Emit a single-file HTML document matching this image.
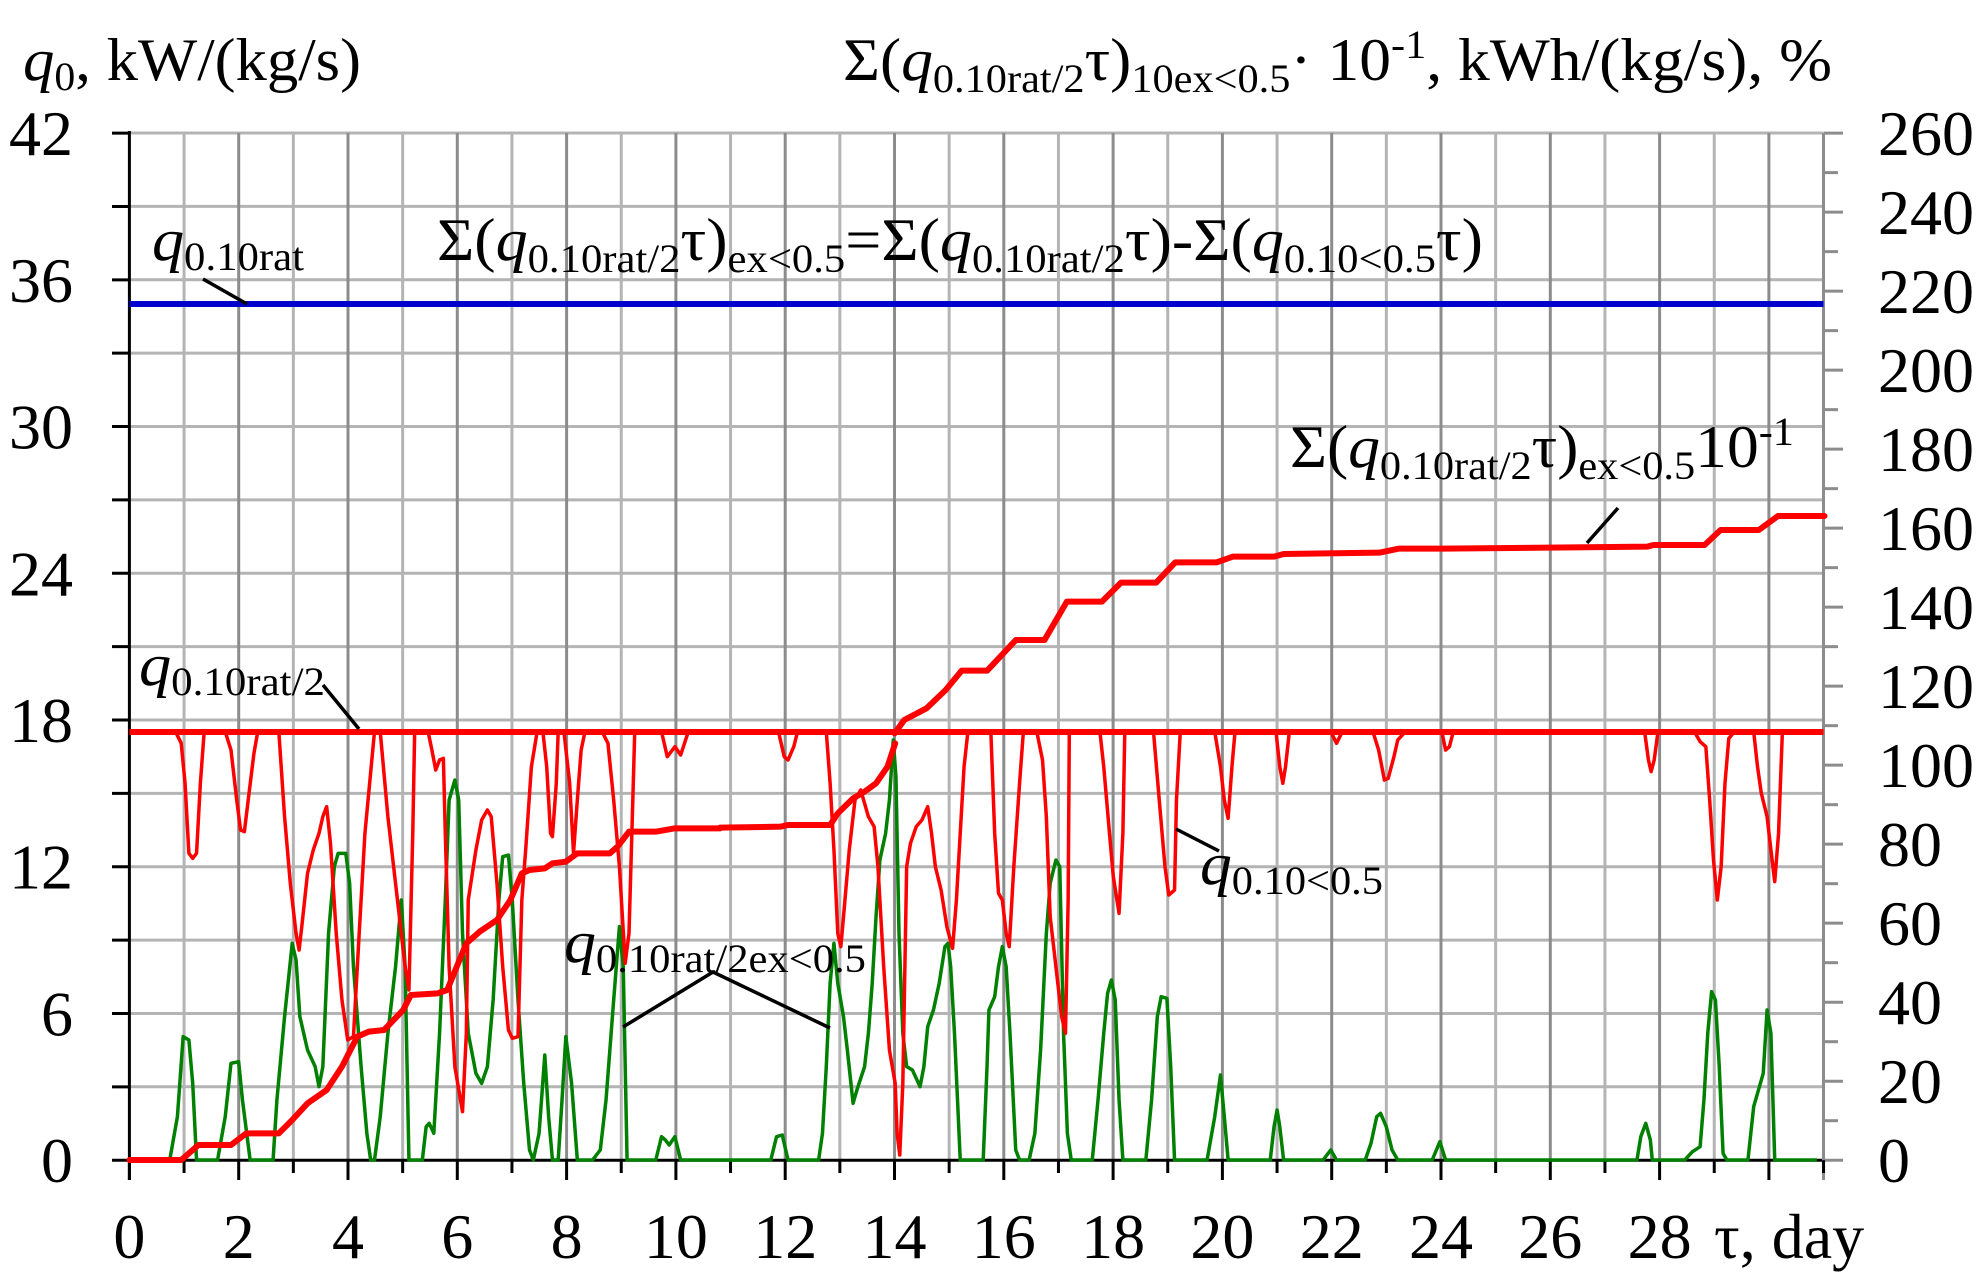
<!DOCTYPE html>
<html><head><meta charset="utf-8"><style>
html,body{margin:0;padding:0;background:#fff;}
svg{display:block;}
text{font-family:"Liberation Serif",serif;fill:#000;}
</style></head><body>
<svg width="1988" height="1284" viewBox="0 0 1988 1284" xmlns="http://www.w3.org/2000/svg">
<rect width="1988" height="1284" fill="#fff"/>
<g id="grid" stroke-width="3">
<g stroke="#b4b4b4">
<line x1="129.4" y1="133" x2="1823" y2="133"/>
<line x1="129.4" y1="206.4" x2="1823" y2="206.4"/>
<line x1="129.4" y1="279.8" x2="1823" y2="279.8"/>
<line x1="129.4" y1="353.1" x2="1823" y2="353.1"/>
<line x1="129.4" y1="426.5" x2="1823" y2="426.5"/>
<line x1="129.4" y1="499.9" x2="1823" y2="499.9"/>
<line x1="129.4" y1="573.2" x2="1823" y2="573.2"/>
<line x1="129.4" y1="646.6" x2="1823" y2="646.6"/>
<line x1="129.4" y1="720" x2="1823" y2="720"/>
<line x1="129.4" y1="793.4" x2="1823" y2="793.4"/>
<line x1="129.4" y1="866.7" x2="1823" y2="866.7"/>
<line x1="129.4" y1="940.1" x2="1823" y2="940.1"/>
<line x1="129.4" y1="1013.5" x2="1823" y2="1013.5"/>
<line x1="129.4" y1="1086.8" x2="1823" y2="1086.8"/>
</g>
<g id="vgrid"></g>
</g>
<script>
(function(){var g=document.getElementById('vgrid');var ns='http://www.w3.org/2000/svg';
for(var d=1;d<=30;d++){var x=129.4+d*54.65;var l=document.createElementNS(ns,'line');
l.setAttribute('x1',x);l.setAttribute('x2',x);l.setAttribute('y1',133);l.setAttribute('y2',1160);
l.setAttribute('stroke',d%2==0?'#8c8c8c':'#b4b4b4');g.appendChild(l);}
})();
</script>
<!-- axes -->
<line x1="129.4" y1="131" x2="129.4" y2="1180" stroke="#000" stroke-width="3"/>
<line x1="129.4" y1="1160.2" x2="1823.5" y2="1160.2" stroke="#000" stroke-width="3"/>
<line x1="1823.5" y1="133" x2="1823.5" y2="1180" stroke="#8c8c8c" stroke-width="3"/>
<g id="ticks" stroke-width="3"></g>
<g id="labels" font-size="64"></g>
<script>
(function(){var ns='http://www.w3.org/2000/svg';var g=document.getElementById('ticks');var lb=document.getElementById('labels');
function ln(x1,y1,x2,y2,c){var l=document.createElementNS(ns,'line');l.setAttribute('x1',x1);l.setAttribute('y1',y1);l.setAttribute('x2',x2);l.setAttribute('y2',y2);l.setAttribute('stroke',c);g.appendChild(l);}
function tx(x,y,s,a){var t=document.createElementNS(ns,'text');t.setAttribute('x',x);t.setAttribute('y',y);t.setAttribute('text-anchor',a);t.textContent=s;lb.appendChild(t);}
for(var v=0;v<=42;v+=3){var y=1160.2-v*24.455;ln(112,y,129.4,y,'#000');if(v%6==0)tx(73,y+22,String(v),'end');}
for(var r=0;r<=260;r+=10){var y=1160.2-r*3.9503;ln(1823.5,y,r%20==0?1843:1838,y,'#8c8c8c');if(r%20==0)tx(1878,y+22,String(r),'start');}
for(var d=0;d<=31;d++){var x=129.4+d*54.65;ln(x,1160.2,x,d%2==0?1180:1173,'#000');if(d%2==0&&d<=28)tx(x,1258,String(d),'middle');}
})();
</script>
<text x="1714" y="1258" font-size="64">τ, day</text>

<!-- reference lines -->
<line x1="129.4" y1="304" x2="1823.5" y2="304" stroke="#0000cc" stroke-width="6"/>

<!-- green q0.10rat/2ex<0.5 -->
<g fill="none" stroke="#008000" stroke-width="3.5" stroke-linejoin="round">
<polyline vector-effect="non-scaling-stroke" transform="translate(120,700) scale(0.3827,0.33333)" points="25,1380 130,1380 150,1250 165,1010 180,1020 190,1150 200,1380 255,1380 275,1250 290,1090 310,1085 320,1200 340,1380 400,1380 410,1200 430,950 450,730 460,780 470,950 490,1050 510,1100 520,1160 530,1100 545,700 560,500 570,460 590,460 600,550 610,800 630,1100 645,1300 655,1380 665,1380 680,1250 700,1000 720,800 735,600 745,800 755,1380 790,1380 800,1280 808,1270 820,1300 835,1000 850,600 860,300 875,240 885,300 895,700 910,1000 930,1120 945,1150 960,1100 975,900 990,600 1000,470 1015,465 1025,600 1040,900 1055,1150 1070,1350 1080,1380 1095,1300 1110,1065 1120,1250 1130,1380 1145,1380 1155,1200 1165,1010 1180,1150 1195,1380 1235,1380 1255,1350 1270,1200 1290,900 1305,680 1315,800 1325,1380 1400,1380 1415,1310 1425,1320 1435,1335 1450,1310 1465,1380 1568,1380"/>
<polyline vector-effect="non-scaling-stroke" transform="translate(700,700) scale(0.3827,0.33333)" points="52,1380 185,1380 200,1310 215,1305 230,1380 310,1380 320,1300 330,1100 340,850 350,730 360,850 375,950 385,1050 400,1210 410,1170 430,1100 440,1000 450,850 460,650 470,480 485,400 495,300 505,120 512,230 520,700 530,1000 540,1100 555,1110 575,1160 585,1100 595,980 610,930 625,850 640,740 648,730 655,800 665,1000 680,1380 740,1380 750,1100 755,930 770,890 780,800 790,740 800,800 810,1000 825,1350 835,1380 860,1380 875,1300 890,1050 905,700 915,550 930,480 940,500 950,1000 960,1300 970,1380 1025,1380 1040,1200 1055,1000 1065,880 1075,840 1085,900 1095,1200 1105,1380 1165,1380 1180,1200 1195,950 1205,890 1220,895 1230,1100 1240,1380 1325,1380 1345,1250 1360,1125 1370,1250 1380,1380 1490,1380 1500,1280 1508,1230 1515,1280 1525,1380 1568,1380"/>
<polyline vector-effect="non-scaling-stroke" transform="translate(1260,700) scale(0.3827,0.33333)" points="104,1380 165,1380 185,1350 200,1380 275,1380 290,1330 305,1250 315,1240 330,1280 345,1350 360,1380 450,1380 470,1325 485,1380 985,1380 995,1310 1008,1270 1020,1320 1025,1380 1110,1380 1130,1355 1150,1340 1160,1200 1170,1000 1180,875 1190,900 1200,1100 1210,1360 1220,1380 1275,1380 1290,1220 1300,1180 1315,1120 1325,930 1335,1000 1345,1380 1455,1380"/>
</g>

<!-- red thin q0.10<0.5 -->
<g fill="none" stroke="#ff0000" stroke-width="3.5" stroke-linejoin="round">
<g transform="translate(120,700) scale(0.3827,0.33333)">
<polyline vector-effect="non-scaling-stroke" points="145,95 160,130 170,250 180,460 190,475 200,460 210,250 220,95"/>
<polyline vector-effect="non-scaling-stroke" points="275,95 290,150 305,300 315,390 325,395 335,300 350,160 360,95"/>
<polyline vector-effect="non-scaling-stroke" points="415,95 430,350 445,550 460,700 468,750 475,680 490,520 505,450 520,400 530,350 540,320 550,430 565,700 580,900 595,1020 610,1010 625,700 640,400 665,95"/>
<polyline vector-effect="non-scaling-stroke" points="680,95 700,350 720,550 745,800 755,870 765,400 770,95"/>
<polyline vector-effect="non-scaling-stroke" points="805,95 815,150 825,210 835,180 845,175 850,400 860,800 875,1100 895,1235 905,1000 910,600 930,450 945,360 960,330 970,350 985,550 1000,800 1015,990 1025,1015 1040,1010 1050,600 1060,450 1075,200 1090,95"/>
<polyline vector-effect="non-scaling-stroke" points="1105,95 1115,200 1125,400 1130,410 1140,250 1145,95"/>
<polyline vector-effect="non-scaling-stroke" points="1160,95 1175,250 1185,460 1195,300 1205,150 1215,95"/>
<polyline vector-effect="non-scaling-stroke" points="1260,95 1275,130 1290,300 1305,500 1320,790 1330,700 1340,300 1345,95"/>
<polyline vector-effect="non-scaling-stroke" points="1415,95 1430,170 1450,140 1465,165 1485,95"/>
</g>
<g transform="translate(700,700) scale(0.3827,0.33333)">
<polyline vector-effect="non-scaling-stroke" points="205,95 220,170 230,180 245,140 255,95"/>
<polyline vector-effect="non-scaling-stroke" points="330,95 340,250 350,450 360,700 368,740 375,650 390,450 405,300 420,270 440,350 455,380 465,500 480,800 495,1050 510,1150 515,1300 522,1365 530,1150 540,500 550,430 565,380 580,360 595,320 605,400 615,500 630,570 645,680 660,745 670,600 680,400 690,200 700,95"/>
<polyline vector-effect="non-scaling-stroke" points="760,95 770,400 780,580 790,600 800,700 808,740 820,500 835,250 845,95"/>
<polyline vector-effect="non-scaling-stroke" points="880,95 895,180 905,350 915,650 930,800 945,950 955,1000 962,600 965,95"/>
<polyline vector-effect="non-scaling-stroke" points="1045,95 1055,200 1070,400 1080,530 1095,640 1105,400 1110,95"/>
<polyline vector-effect="non-scaling-stroke" points="1185,95 1200,300 1215,500 1225,585 1240,570 1245,300 1255,95"/>
<polyline vector-effect="non-scaling-stroke" points="1345,95 1360,200 1370,300 1380,355 1390,200 1398,95"/>
<polyline vector-effect="non-scaling-stroke" points="1505,95 1515,200 1523,250 1530,200 1540,95"/>
</g>
<g transform="translate(1260,700) scale(0.3827,0.33333)">
<polyline vector-effect="non-scaling-stroke" points="185,95 200,130 215,95"/>
<polyline vector-effect="non-scaling-stroke" points="295,95 310,150 325,240 335,235 350,170 360,120 380,95"/>
<polyline vector-effect="non-scaling-stroke" points="475,95 485,150 495,140 505,95"/>
<polyline vector-effect="non-scaling-stroke" points="1005,95 1015,180 1022,215 1030,180 1040,95"/>
<polyline vector-effect="non-scaling-stroke" points="1135,95 1150,125 1165,140 1175,300 1185,480 1195,600 1205,500 1215,250 1225,115 1240,95"/>
<polyline vector-effect="non-scaling-stroke" points="1290,95 1300,200 1310,280 1325,350 1335,450 1345,545 1355,400 1365,95"/>
</g>
</g>

<line x1="129.4" y1="732" x2="1823.5" y2="732" stroke="#ff0000" stroke-width="6"/>

<!-- cumulative -->
<g fill="none" stroke="#ff0000" stroke-width="6" stroke-linejoin="round" stroke-linecap="round">
<polyline vector-effect="non-scaling-stroke" transform="translate(120,700) scale(0.3827,0.33333)" points="25,1380 160,1380 205,1335 290,1335 330,1300 415,1300 450,1260 490,1210 540,1170 580,1100 620,1010 650,995 690,990 740,930 760,885 830,880 855,870 880,800 905,730 940,695 985,660 1020,600 1050,520 1070,510 1110,505 1130,490 1165,485 1195,460 1280,460 1300,440 1330,395 1400,395 1450,385 1568,385"/>
<polyline vector-effect="non-scaling-stroke" transform="translate(700,700) scale(0.3827,0.33333)" points="52,383 210,380 230,375 340,375 360,340 400,295 430,275 460,250 490,200 510,130"/>
<polyline vector-effect="non-scaling-stroke" transform="translate(850,480) scale(0.63776,0.33333)" points="70,760 85,720 120,685 150,630 175,572 215,572 260,480 305,480 340,365 395,365 425,308 480,308 510,247 575,247 600,230 665,230 680,222 830,218 860,206 930,206 1250,200 1260,195 1340,195 1365,150 1425,150 1455,108 1528,108"/>
</g>

<!-- leader lines -->
<g stroke="#000" stroke-width="3.5" fill="none">
<line x1="203" y1="279" x2="247" y2="304"/>
<line x1="323" y1="685" x2="359" y2="729"/>
<line x1="1618" y1="508" x2="1587" y2="543"/>
<line x1="1176" y1="829" x2="1219" y2="851"/>
<polyline points="623,1027 713,972 830,1028"/>
</g>

<!-- titles & annotations -->
<text x="23" y="80" font-size="60" textLength="338" lengthAdjust="spacingAndGlyphs"><tspan font-style="italic">q</tspan><tspan font-size="40" dy="10">0</tspan><tspan dy="-10">, kW/(kg/s)</tspan></text>

<text x="843" y="80" font-size="60" textLength="989" lengthAdjust="spacingAndGlyphs">Σ(<tspan font-style="italic">q</tspan><tspan font-size="40" dy="12">0.10rat/2</tspan><tspan dy="-12">τ)</tspan><tspan font-size="40" dy="12">10ex&lt;0.5</tspan><tspan dy="-12">· 10</tspan><tspan font-size="40" dy="-22">-1</tspan><tspan dy="22">, kWh/(kg/s), %</tspan></text>

<text x="152" y="260" font-size="60" textLength="152" lengthAdjust="spacingAndGlyphs"><tspan font-style="italic">q</tspan><tspan font-size="40" dy="10">0.10rat</tspan></text>

<text x="437" y="260" font-size="60" textLength="1046" lengthAdjust="spacingAndGlyphs">Σ(<tspan font-style="italic">q</tspan><tspan font-size="40" dy="12">0.10rat/2</tspan><tspan dy="-12">τ)</tspan><tspan font-size="40" dy="12">ex&lt;0.5</tspan><tspan dy="-12">=Σ(</tspan><tspan font-style="italic">q</tspan><tspan font-size="40" dy="12">0.10rat/2</tspan><tspan dy="-12">τ)-Σ(</tspan><tspan font-style="italic">q</tspan><tspan font-size="40" dy="12">0.10&lt;0.5</tspan><tspan dy="-12">τ)</tspan></text>

<text x="1290" y="467" font-size="60" textLength="504" lengthAdjust="spacingAndGlyphs">Σ(<tspan font-style="italic">q</tspan><tspan font-size="40" dy="12">0.10rat/2</tspan><tspan dy="-12">τ)</tspan><tspan font-size="40" dy="12">ex&lt;0.5</tspan><tspan dy="-12">10</tspan><tspan font-size="40" dy="-22">-1</tspan></text>

<text x="139" y="685" font-size="60" textLength="186" lengthAdjust="spacingAndGlyphs"><tspan font-style="italic">q</tspan><tspan font-size="40" dy="10">0.10rat/2</tspan></text>

<text x="1200" y="884" font-size="60" textLength="183" lengthAdjust="spacingAndGlyphs"><tspan font-style="italic">q</tspan><tspan font-size="40" dy="10">0.10&lt;0.5</tspan></text>

<text x="564" y="962" font-size="60" textLength="302" lengthAdjust="spacingAndGlyphs"><tspan font-style="italic">q</tspan><tspan font-size="40" dy="10">0.10rat/2ex&lt;0.5</tspan></text>
</svg>
</body></html>
